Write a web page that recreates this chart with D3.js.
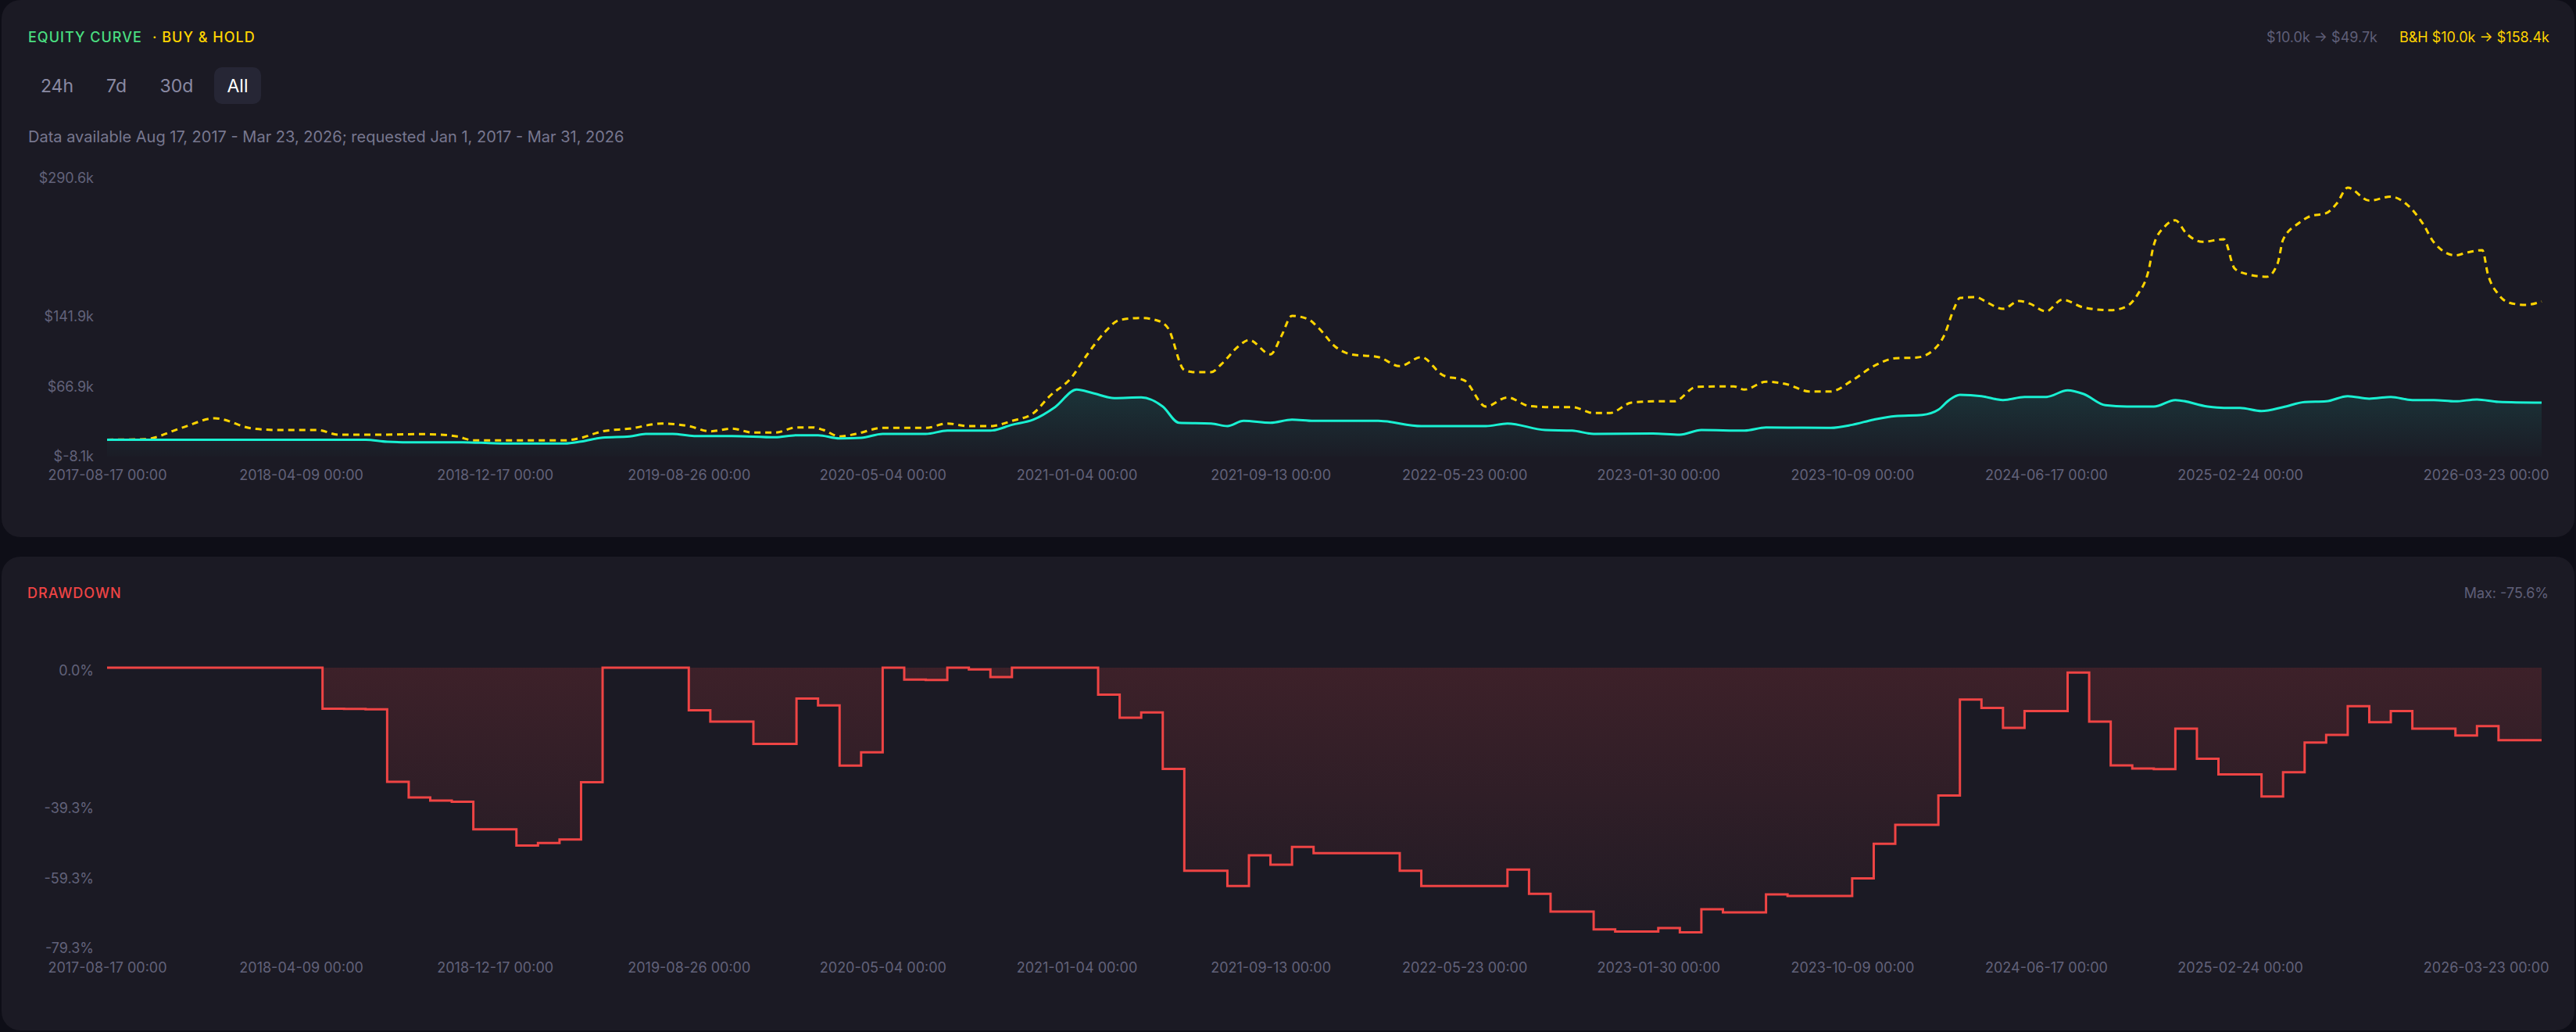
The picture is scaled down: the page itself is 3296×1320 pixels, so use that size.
<!DOCTYPE html>
<html lang="en">
<head>
<meta charset="UTF-8" />
<title>Equity Curve & Drawdown</title>
<script src="https://d3js.org/d3.v7.min.js"></script>
<style>
  body {
    margin: 0;
    background: #0e0e17;
    font-family: Inter, "Noto Sans", sans-serif;
  }
  svg text {
    font-family: Inter, "Noto Sans", sans-serif;
  }
  .axis .tick text {
    fill: #62627a;
    font-size: 18px;
  }
  .card {
    fill: #1b1a24;
  }
</style>
</head>
<body>
<svg id="chart" width="3296" height="1320"></svg>
<script>
// bar index along the x axis (one bar per week, first bar = 2017-08-17)
const tickBars = [0, 36, 72, 108, 144, 180, 216, 252, 288, 324, 360, 396, 452];
const tickLabels = [
  "2017-08-17 00:00", "2018-04-09 00:00", "2018-12-17 00:00", "2019-08-26 00:00",
  "2020-05-04 00:00", "2021-01-04 00:00", "2021-09-13 00:00", "2022-05-23 00:00",
  "2023-01-30 00:00", "2023-10-09 00:00", "2024-06-17 00:00", "2025-02-24 00:00",
  "2026-03-23 00:00"
];

// strategy equity, $k
const eqBar = [0,20,40,48,52,56,66,72,76,85,88,92,97,100,105,109,116,124,128,132,
  136,140,144,152,156,164,168,172,176,180,183,187,192,196,199,205,208,211,216,220,
  224,236,244,256,260,267,272,276,287,292,296,304,308,320,324,328,332,337,340,342,
  344,348,352,356,360,364,367,371,375,380,384,390,393,396,400,404,408,412,416,420,
  424,428,432,436,440,444,452];
const eqValue = [10,10,10,10,7.8,7.3,7.3,6.2,5.9,5.9,8.0,12.3,13.5,16.2,16.2,14,14,12.6,14.8,14.8,
  11.4,12,16.2,16.2,19.8,19.8,26,31.6,45,63.8,60.1,54.6,55.4,45.6,28.2,27.4,24.6,30.2,28.2,31.6,
  30.2,30.2,24.6,24.6,27.4,20.4,19.8,16.2,16.6,15.4,20.4,19.8,23.2,22.7,26,31.6,35.4,36.6,42.2,52.6,
  58.2,56.8,52.6,55.9,55.9,63,59,47,45.6,45.6,52.6,45.6,44.2,44.2,40.8,45,50.4,51.2,56.8,54,
  55.9,52.6,52.6,51.2,53.2,50.6,49.7];

// buy & hold, $k
const bhBar = [0,7,14,20,27,32,39,43,50,58,62,65,68,80,85,88,92,97,103,108,
  112,116,120,124,128,131,133,136,139,144,152,156,160,164,168,172,175,179,182,185,
  188,192,195,197,200,202,205,207,210,212,216,218,220,223,225,228,231,236,240,244,
  248,252,256,260,264,268,272,276,279,283,287,291,295,299,302,304,308,312,316,320,
  324,328,332,336,339,341,343,344,347,349,352,355,357,360,363,367,372,375,377,379,
  380,382,384,386,389,393,395,397,401,403,404,407,409,412,414,416,420,424,427,430,
  432,436,438,441,442,444,446,449,452];
const bhValue = [10,10.6,23,33,22,20.4,20.4,15.4,15.4,16,15.4,13.5,9.3,9.3,9.3,12,19,21.9,27.4,24.6,
  19,21.9,17.6,17.6,23.2,23.2,20.4,13.5,16.2,22.7,22.7,27.4,24.6,24.6,30.2,38.6,56.7,76.4,101.6,123.9,
  138.5,140.7,137.9,129.5,84.8,82.5,82.5,91.7,110,117,101.6,121,143,139.3,129.5,110,101.6,98.7,89,98.7,
  79.2,73.6,45.6,55.4,46.2,45,45,38.6,38.6,49.8,51.2,51.2,66.6,67.2,67.2,63.8,72.2,69.3,61.8,61.8,
  73.6,89,97.4,98.2,105.8,121,151.9,162.2,163,157.5,150.5,158.9,156,147.7,160.3,151.9,149,153.3,165.9,191,
  219,238.6,245.5,231.6,222.4,225.2,193.8,188.2,184.9,199.4,224.6,242.8,249.8,253.1,263.8,280.5,266.6,270.8,262.4,241.4,
  221.8,207.9,210.7,213.4,188.2,165.9,157,154.7,158.4];

const equityTicks = [-8.1, 66.9, 141.9, 290.6];

// drawdown %, one value every 4 bars (bar 0, 4, 8 ... 452)
const ddEvery = 4;
const ddValue = [0,0,0,0,0,0,0,0,0,0,
  -11.7,-11.8,-11.9,-32.6,-37.1,-38.0,-38.3,-46.2,-46.2,-50.8,
  -50.1,-49.1,-32.7,0,0,0,0,-12.2,-15.4,-15.4,
  -21.8,-21.8,-8.8,-10.8,-28.0,-24.2,0,-3.4,-3.5,0,
  -0.5,-2.7,0,0,0,0,-7.7,-14.3,-12.8,-28.9,
  -58.0,-58.0,-62.4,-53.6,-56.3,-51.2,-53.0,-53.0,-53.0,-53.0,
  -58.0,-62.4,-62.4,-62.4,-62.4,-57.7,-64.6,-69.7,-69.7,-74.8,
  -75.4,-75.4,-74.4,-75.6,-69.0,-69.9,-69.9,-64.8,-65.2,-65.2,
  -65.2,-60.2,-50.3,-44.9,-44.9,-36.5,-9.1,-11.5,-17.2,-12.4,
  -12.4,-1.4,-15.4,-27.9,-28.8,-29.0,-17.4,-26.0,-30.5,-30.5,
  -36.8,-29.9,-21.4,-19.2,-11.0,-15.6,-12.4,-17.4,-17.4,-19.4,
  -16.7,-20.7,-20.7,-20.7];
const ddTicks = [0, -39.3, -59.3, -79.3];

const svg = d3.select("#chart");
const defs = svg.append("defs");

// cards
svg.append("rect").attr("class", "card")
  .attr("x", 2).attr("y", 0).attr("width", 3292).attr("height", 687).attr("rx", 24);
svg.append("rect").attr("class", "card")
  .attr("x", 2).attr("y", 712).attr("width", 3292).attr("height", 606).attr("rx", 24);

const x = d3.scaleLinear().domain([0, 452]).range([137, 3252]);
const yEq = d3.scaleLinear().domain([-8.1, 290.6]).range([584, 228]);
const yDd = d3.scaleLinear().domain([-79.3, 0]).range([1209, 854]);

function xAxis(yPos) {
  const g = svg.append("g")
    .attr("class", "axis")
    .attr("transform", `translate(0,${yPos})`)
    .call(d3.axisBottom(x).tickValues(tickBars)
      .tickFormat((d, i) => tickLabels[i]).tickSize(0).tickPadding(0));
  g.select(".domain").remove();
  g.selectAll(".tick text")
    .filter((d, i) => i === tickBars.length - 1)
    .attr("text-anchor", "end").attr("dx", 9);
}

function yAxis(scale, ticks, fmt, dy) {
  const g = svg.append("g")
    .attr("class", "axis")
    .attr("transform", "translate(120,0)")
    .call(d3.axisLeft(scale).tickValues(ticks).tickFormat(fmt).tickSize(0).tickPadding(0));
  g.select(".domain").remove();
  g.selectAll(".tick text").attr("y", dy);
}

// ---- header, equity card
svg.append("text").attr("x", 36).attr("y", 48).attr("dy", "0.35em")
  .attr("fill", "#4ade80").attr("font-size", 18).attr("font-weight", 500)
  .attr("letter-spacing", 1).text("EQUITY CURVE");
svg.append("text").attr("x", 195).attr("y", 48).attr("dy", "0.35em")
  .attr("fill", "#ffd400").attr("font-size", 18).attr("font-weight", 500)
  .attr("letter-spacing", 1).text("· BUY & HOLD");

svg.append("text").attr("x", 3262).attr("y", 48).attr("dy", "0.35em")
  .attr("text-anchor", "end").attr("fill", "#ffd400").attr("font-size", 18)
  .text("B&H $10.0k → $158.4k");
svg.append("text").attr("x", 3042).attr("y", 48).attr("dy", "0.35em")
  .attr("text-anchor", "end").attr("fill", "#5f5f78").attr("font-size", 18)
  .text("$10.0k → $49.7k");

// range buttons
const ranges = ["24h", "7d", "30d", "All"];
const rangeX = [73, 149, 226, 304];
svg.append("rect").attr("x", 274).attr("y", 86).attr("width", 60).attr("height", 47)
  .attr("rx", 10).attr("fill", "#262635");
svg.selectAll(".range").data(ranges).join("text")
  .attr("class", "range")
  .attr("x", (d, i) => rangeX[i]).attr("y", 110).attr("dy", "0.35em")
  .attr("text-anchor", "middle").attr("font-size", 23)
  .attr("fill", d => d === "All" ? "#ffffff" : "#8a8aa3")
  .text(d => d);

svg.append("text").attr("x", 36).attr("y", 175).attr("dy", "0.35em")
  .attr("fill", "#77778f").attr("font-size", 20)
  .text("Data available Aug 17, 2017 - Mar 23, 2026; requested Jan 1, 2017 - Mar 31, 2026");

// ---- equity chart
yAxis(yEq, equityTicks, d => `$${d.toFixed(1)}k`, 0);
xAxis(601);

const eqGrad = defs.append("linearGradient").attr("id", "eqFill")
  .attr("x1", 0).attr("y1", 0).attr("x2", 0).attr("y2", 1);
eqGrad.append("stop").attr("offset", 0).attr("stop-color", "#19f0d2").attr("stop-opacity", 0.12);
eqGrad.append("stop").attr("offset", 1).attr("stop-color", "#19f0d2").attr("stop-opacity", 0.01);

const eqData = eqBar.map((b, i) => ({ bar: b, v: eqValue[i] }));
const bhData = bhBar.map((b, i) => ({ bar: b, v: bhValue[i] }));

svg.append("path").datum(eqData)
  .attr("fill", "url(#eqFill)")
  .attr("d", d3.area().curve(d3.curveMonotoneX)
    .x(d => x(d.bar)).y0(yEq(-8.1)).y1(d => yEq(d.v)));

svg.append("path").datum(bhData)
  .attr("fill", "none").attr("stroke", "#ffd400").attr("stroke-width", 3)
  .attr("stroke-dasharray", "8,6")
  .attr("d", d3.line().curve(d3.curveMonotoneX).x(d => x(d.bar)).y(d => yEq(d.v)));

svg.append("path").datum(eqData)
  .attr("fill", "none").attr("stroke", "#19f0d2").attr("stroke-width", 3)
  .attr("d", d3.line().curve(d3.curveMonotoneX).x(d => x(d.bar)).y(d => yEq(d.v)));

// ---- drawdown card
svg.append("text").attr("x", 35).attr("y", 759).attr("dy", "0.35em")
  .attr("fill", "#ef4444").attr("font-size", 18).attr("font-weight", 500)
  .attr("letter-spacing", 1).text("DRAWDOWN");
svg.append("text").attr("x", 3261).attr("y", 759).attr("dy", "0.35em")
  .attr("text-anchor", "end").attr("fill", "#5f5f78").attr("font-size", 18)
  .text("Max: -75.6%");

yAxis(yDd, ddTicks, d => `${d.toFixed(1)}%`, 4);
xAxis(1231);

const ddGrad = defs.append("linearGradient").attr("id", "ddFill")
  .attr("gradientUnits", "userSpaceOnUse")
  .attr("x1", 0).attr("y1", yDd(0)).attr("x2", 0).attr("y2", yDd(-79.3));
ddGrad.append("stop").attr("offset", 0).attr("stop-color", "#ef4444").attr("stop-opacity", 0.16);
ddGrad.append("stop").attr("offset", 1).attr("stop-color", "#ef4444").attr("stop-opacity", 0.02);

const ddData = ddValue.map((v, i) => ({ bar: i * ddEvery, v }));

svg.append("path").datum(ddData)
  .attr("fill", "url(#ddFill)")
  .attr("d", d3.area().curve(d3.curveStepAfter)
    .x(d => x(d.bar)).y0(yDd(0)).y1(d => yDd(d.v)));

svg.append("path").datum(ddData)
  .attr("fill", "none").attr("stroke", "#ef4444").attr("stroke-width", 3)
  .attr("d", d3.line().curve(d3.curveStepAfter).x(d => x(d.bar)).y(d => yDd(d.v)));
</script>
</body>
</html>
